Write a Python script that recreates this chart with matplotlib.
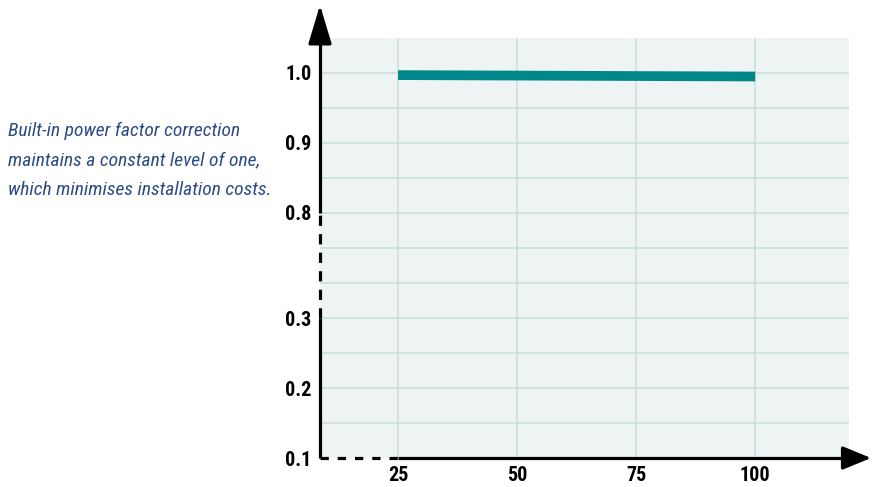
import numpy as np
import matplotlib
matplotlib.use("Agg")
import matplotlib.pyplot as plt
from matplotlib.transforms import blended_transform_factory

# ---- data ----
load_pct = [25, 100]
power_factor = [0.997, 0.995]
x_ticks = [25, 50, 75, 100]
x_tick_labels = ["25", "50", "75", "100"]
y_ticks = [0.1, 0.2, 0.3, 0.8, 0.9, 1.0]
y_tick_labels = ["0.1", "0.2", "0.3", "0.8", "0.9", "1.0"]
note_lines = ["Built-in power factor correction",
              "maintains a constant level of one,",
              "which minimises installation costs."]

# broken-axis mapping (value -> position)
brk_vals = [0.0, 0.1, 0.3, 0.8, 1.0, 1.1]
brk_pos = [-2, 0, 4, 7, 11, 13]

def fwd(v):
    return np.interp(v, brk_vals, brk_pos)

def inv(p):
    return np.interp(p, brk_pos, brk_vals)

W, H = 872, 487
fig = plt.figure(figsize=(W / 100, H / 100), dpi=100)
L, R, T, B = 320, 849, 38, 458
ax = fig.add_axes([L / W, 1 - B / H, (R - L) / W, (B - T) / H])
ax.set_facecolor("#edf4f3")
ax.set_yscale("function", functions=(fwd, inv))
ax.set_ylim(0.1, inv(12))
ax.set_xlim(8.6, 119.7)

grid_c = "#c6dfdc"
for p in range(1, 12):
    ax.axhline(inv(p), color=grid_c, lw=1.1, zorder=1)
for xv in x_ticks:
    ax.axvline(xv, color=grid_c, lw=1.1, zorder=1)

ax.plot(load_pct, power_factor, color="#00878a", lw=7.0,
        solid_capstyle="butt", zorder=3)

for s in ax.spines.values():
    s.set_visible(False)

tick_font = dict(family=["Roboto Condensed", "DejaVu Sans"],
                 weight="bold", size=14.5)
ax.set_xticks(x_ticks)
ax.set_xticklabels(x_tick_labels, fontdict=tick_font)
ax.set_yticks(y_ticks)
ax.set_yticklabels(y_tick_labels, fontdict=tick_font)
ax.tick_params(axis="both", length=0)
ax.tick_params(axis="x", pad=6)
ax.tick_params(axis="y", pad=6)

# axes lines (broken)
lw = 2.3
ty = blended_transform_factory(ax.transAxes, ax.transData)
tx = blended_transform_factory(ax.transData, ax.transAxes)
ax.plot([0, 0], [0.1, 0.3], color="black", lw=lw, transform=ty, clip_on=False,
        solid_capstyle="butt", zorder=5)
ax.plot([0, 0], [0.3, 0.8], color="black", lw=lw, transform=ty, clip_on=False,
        dashes=(3.2, 2.6), zorder=5)
ax.plot([0, 0], [0.8, inv(12)], color="black", lw=lw, transform=ty, clip_on=False,
        solid_capstyle="butt", zorder=5)
ax.plot([8.6, 25], [0, 0], color="black", lw=lw, transform=tx, clip_on=False,
        dashes=(2.6, 2.8), zorder=5)
ax.plot([25, 119.7], [0, 0], color="black", lw=lw, transform=tx, clip_on=False,
        solid_capstyle="butt", zorder=5)

ax.annotate("", xy=(0, (B - 5) / (B - T)), xytext=(0, 0.99),
            xycoords="axes fraction", textcoords="axes fraction",
            arrowprops=dict(arrowstyle="-|>,head_length=2.4,head_width=0.72",
                            color="black", lw=lw, shrinkA=0, shrinkB=0),
            annotation_clip=False, zorder=6)
ax.annotate("", xy=((W - 1 - L) / (R - L), 0), xytext=(0.99, 0),
            xycoords="axes fraction", textcoords="axes fraction",
            arrowprops=dict(arrowstyle="-|>,head_length=1.75,head_width=0.72",
                            color="black", lw=lw, shrinkA=0, shrinkB=0),
            annotation_clip=False, zorder=6)

for i, line in enumerate(note_lines):
    fig.text(8 / W, 1 - (131 + 29.5 * i) / H, line,
             family=["Roboto Condensed", "DejaVu Sans"], style="italic",
             weight="normal", size=14.0, color="#2b4b84",
             ha="left", va="center")

fig.savefig("out.png", dpi=100)
